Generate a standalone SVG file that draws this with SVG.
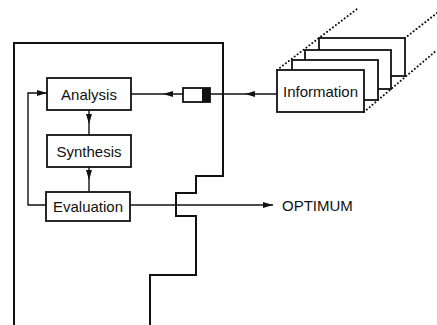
<svg xmlns="http://www.w3.org/2000/svg" width="437" height="325" viewBox="0 0 437 325">
<defs>
<style>
.box{fill:#fff;stroke:#111;stroke-width:1.8}
.ln{fill:none;stroke:#111;stroke-width:1.4}
.bd{fill:none;stroke:#111;stroke-width:2}
.dot{fill:none;stroke:#111;stroke-width:2;stroke-dasharray:0.1 3.6;stroke-linecap:round}
text{font-family:"Liberation Sans",Arial,sans-serif;font-size:15px;fill:#111}
</style>
<marker id="ah" viewBox="0 0 10 6" refX="10" refY="3" markerWidth="10" markerHeight="6" markerUnits="userSpaceOnUse" orient="auto"><path d="M0,0 L10,3 L0,6 Z" fill="#111"/></marker>
</defs>
<g id="boundary"><path class="bd" d="M14,325 V43 H223 V176 H196 V193 H176 V216 H196 V275 H150 V325"/></g>
<g id="connectors">
<path class="ln" d="M89,110 V124 V135" marker-mid="url(#ah)"/>
<path class="ln" d="M89,167 V180 V192" marker-mid="url(#ah)"/>
<path class="ln" d="M46,205 H28 V93 H47" marker-end="url(#ah)"/>
<path class="ln" d="M130,205 H273" marker-end="url(#ah)"/>
<path class="ln" d="M277,94 H245 H210" marker-mid="url(#ah)"/>
<path class="ln" d="M183,94 H163 H131" marker-mid="url(#ah)"/>
</g>
<g id="analysis"><rect class="box" x="47" y="78" width="84" height="32"/><text x="89" y="99.5" text-anchor="middle">Analysis</text></g>
<g id="synthesis"><rect class="box" x="47" y="135" width="84" height="32"/><text x="89" y="156.5" text-anchor="middle">Synthesis</text></g>
<g id="evaluation"><rect class="box" x="46" y="192" width="84" height="29"/><text x="88" y="211.5" text-anchor="middle">Evaluation</text></g>
<g id="component"><rect class="box" x="183" y="88" width="27" height="14"/><rect x="202" y="88" width="8" height="14" fill="#111"/></g>
<g id="information">
<path class="dot" d="M277,70 L357,9"/>
<path class="dot" d="M364,70 L437,13"/>
<path class="dot" d="M364,112 L437,50"/>
<rect class="box" x="319" y="38" width="86" height="38"/>
<rect class="box" x="305" y="50" width="86" height="39"/>
<rect class="box" x="292" y="60" width="86" height="40"/>
<rect class="box" x="277" y="70" width="87" height="42"/>
<text x="320.5" y="96.5" text-anchor="middle">Information</text>
</g>
<g id="optimum"><text x="282" y="210.5">OPTIMUM</text></g>
</svg>
